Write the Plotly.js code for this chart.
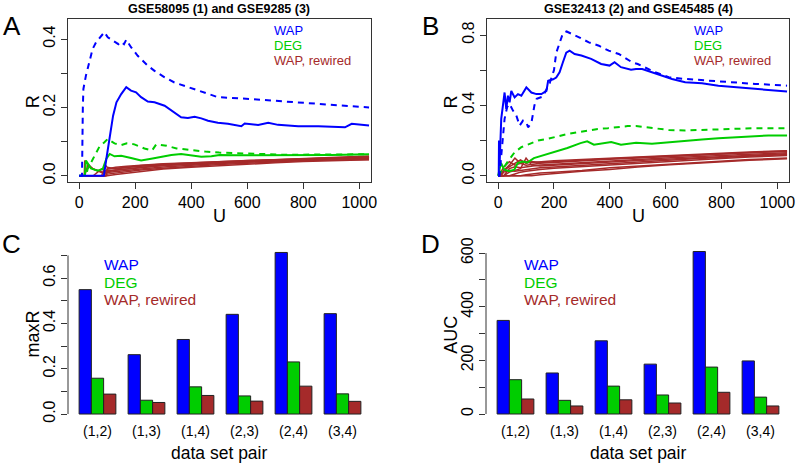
<!DOCTYPE html>
<html>
<head>
<meta charset="utf-8">
<script src="https://cdn.plot.ly/plotly-3.0.1.min.js"></script>
<style>
  html, body { margin: 0; padding: 0; background: #fff; }
  #chart { width: 800px; height: 465px; }
</style>
</head>
<body>
<div id="chart"></div>
<script>
// ---- panel A : GSE58095 (1) and GSE9285 (3) ----
var uA_wapDash = [0, 10, 13, 15, 24, 36, 48, 60, 78, 90, 102, 115, 126, 140, 150, 160, 168, 185, 209, 245, 269, 305, 340, 376, 412, 448, 495, 567, 639, 710, 782, 854, 925, 1000, 1035];
var rA_wapDash = [0, 0, 0.2, 0.254, 0.293, 0.334, 0.371, 0.39, 0.41, 0.42, 0.405, 0.398, 0.39, 0.385, 0.392, 0.385, 0.398, 0.376, 0.351, 0.322, 0.307, 0.288, 0.273, 0.263, 0.254, 0.244, 0.23, 0.227, 0.223, 0.22, 0.215, 0.21, 0.207, 0.202, 0.2];
var uA_wap = [0, 88, 97, 109, 121, 133, 150, 168, 185, 203, 221, 245, 269, 305, 329, 364, 388, 412, 436, 460, 495, 531, 579, 591, 639, 675, 710, 782, 854, 949, 973, 1035];
var rA_wap = [0, 0, 0.05, 0.117, 0.176, 0.215, 0.239, 0.259, 0.249, 0.244, 0.23, 0.217, 0.215, 0.205, 0.191, 0.171, 0.169, 0.173, 0.168, 0.161, 0.155, 0.152, 0.145, 0.153, 0.149, 0.155, 0.149, 0.145, 0.145, 0.142, 0.152, 0.147];
var uA_degDash = [0, 25, 30, 40, 54, 72, 90, 102, 126, 150, 170, 197, 233, 260, 275, 312, 348, 400, 450, 500, 560, 640, 720, 800, 900, 1035];
var rA_degDash = [0, 0, 0.02, 0.035, 0.056, 0.085, 0.098, 0.108, 0.095, 0.09, 0.095, 0.092, 0.08, 0.074, 0.092, 0.088, 0.08, 0.075, 0.071, 0.068, 0.066, 0.063, 0.062, 0.062, 0.062, 0.063];
var uA_deg = [0, 20, 24, 42, 66, 84, 97, 109, 126, 150, 185, 221, 257, 293, 329, 364, 400, 436, 472, 501, 560, 640, 720, 800, 900, 1035];
var rA_deg = [0, 0, 0.045, 0.022, 0.015, 0.02, 0.05, 0.064, 0.057, 0.059, 0.052, 0.045, 0.05, 0.056, 0.061, 0.064, 0.059, 0.056, 0.057, 0.061, 0.06, 0.06, 0.059, 0.06, 0.061, 0.063];
var uA_rew = [0, 18, 20, 30, 50, 80, 95, 100, 130, 170, 220, 300, 400, 500, 600, 700, 800, 900, 1035];
var rA_rew = [
  [0, 0, 0.045, 0.035, 0.02, 0.01, 0.008, 0.02, 0.022, 0.025, 0.028, 0.032, 0.036, 0.04, 0.043, 0.046, 0.049, 0.052, 0.055],
  [0, 0, 0, 0, 0, 0, 0.03, 0.025, 0.02, 0.024, 0.03, 0.034, 0.038, 0.042, 0.045, 0.047, 0.05, 0.053, 0.056],
  [0, 0, 0, 0.03, 0.02, 0.012, 0.01, 0.015, 0.018, 0.02, 0.024, 0.03, 0.035, 0.04, 0.042, 0.045, 0.048, 0.05, 0.052],
  [0, 0, 0, 0, 0, 0, 0, 0.01, 0.012, 0.015, 0.02, 0.026, 0.032, 0.036, 0.04, 0.043, 0.046, 0.049, 0.05],
  [0, 0, 0, 0, 0, 0.02, 0.015, 0.012, 0.016, 0.02, 0.025, 0.03, 0.034, 0.038, 0.041, 0.044, 0.047, 0.05, 0.054],
  [0, 0, 0, 0, 0, 0, 0, 0.005, 0.008, 0.012, 0.017, 0.022, 0.028, 0.033, 0.037, 0.041, 0.044, 0.046, 0.048],
  [0, 0, 0, 0, 0, 0, 0, 0.02, 0.025, 0.028, 0.031, 0.035, 0.038, 0.041, 0.044, 0.048, 0.051, 0.054, 0.058],
  [0, 0, 0, 0, 0, 0, 0, 0, 0.004, 0.008, 0.014, 0.02, 0.025, 0.03, 0.034, 0.038, 0.042, 0.045, 0.047]
];

// ---- panel B : GSE32413 (2) and GSE45485 (4) ----
var uB_wapDash = [0, 5, 10, 17, 23, 32, 41, 53, 65, 77, 89, 101, 107, 119, 130, 138, 160, 185, 200, 208, 220, 232, 245, 260, 290, 325, 361, 396, 432, 480, 500, 560, 611, 670, 754, 830, 920, 1035];
var rB_wapDash = [0, 0, 0.095, 0.247, 0.323, 0.389, 0.408, 0.37, 0.342, 0.285, 0.313, 0.304, 0.275, 0.3, 0.4, 0.437, 0.45, 0.528, 0.6, 0.698, 0.76, 0.81, 0.82, 0.81, 0.787, 0.758, 0.739, 0.711, 0.692, 0.645, 0.635, 0.59, 0.56, 0.55, 0.54, 0.53, 0.522, 0.512];
var uB_wap = [0, 2, 3, 5, 11, 17, 23, 29, 35, 41, 47, 59, 71, 83, 101, 119, 137, 155, 173, 179, 197, 208, 220, 232, 244, 256, 274, 298, 333, 369, 399, 417, 440, 476, 494, 516, 551, 587, 623, 670, 730, 789, 849, 908, 968, 1035];
var rB_wap = [0, 0, 0.2, 0.057, 0.323, 0.397, 0.473, 0.38, 0.455, 0.417, 0.482, 0.445, 0.464, 0.455, 0.502, 0.473, 0.464, 0.464, 0.482, 0.539, 0.548, 0.558, 0.588, 0.645, 0.7, 0.711, 0.692, 0.683, 0.664, 0.635, 0.626, 0.645, 0.617, 0.602, 0.607, 0.607, 0.588, 0.569, 0.55, 0.531, 0.526, 0.512, 0.503, 0.493, 0.484, 0.478];
var uB_degDash = [0, 20, 41, 59, 83, 113, 143, 179, 214, 250, 286, 321, 357, 393, 429, 464, 494, 551, 611, 670, 730, 825, 920, 1035];
var rB_degDash = [0, 0.05, 0.095, 0.133, 0.162, 0.181, 0.2, 0.21, 0.225, 0.238, 0.247, 0.257, 0.266, 0.27, 0.276, 0.282, 0.282, 0.27, 0.26, 0.257, 0.26, 0.266, 0.27, 0.27];
var uB_deg = [0, 10, 22, 40, 58, 70, 88, 105, 128, 188, 248, 295, 319, 343, 369, 405, 440, 476, 494, 551, 611, 670, 730, 789, 849, 908, 968, 1035];
var rB_deg = [0, 0.072, 0.034, 0.025, 0.034, 0.072, 0.081, 0.075, 0.1, 0.128, 0.157, 0.185, 0.195, 0.176, 0.181, 0.191, 0.176, 0.181, 0.187, 0.181, 0.19, 0.2, 0.206, 0.213, 0.219, 0.225, 0.229, 0.229];
var uB_rew = [0, 10, 20, 40, 60, 80, 100, 120, 150, 200, 300, 400, 500, 600, 700, 800, 900, 1035];
var rB_rew = [
  [0, 0.02, 0.05, 0.08, 0.06, 0.07, 0.08, 0.075, 0.08, 0.085, 0.092, 0.1, 0.106, 0.112, 0.12, 0.128, 0.135, 0.142],
  [0, 0, 0.03, 0.06, 0.1, 0.07, 0.06, 0.065, 0.07, 0.075, 0.085, 0.094, 0.1, 0.108, 0.115, 0.122, 0.13, 0.138],
  [0, 0, 0, 0.04, 0.05, 0.045, 0.05, 0.055, 0.06, 0.065, 0.075, 0.085, 0.092, 0.1, 0.108, 0.115, 0.122, 0.13],
  [0, 0, 0, 0.02, 0.03, 0.04, 0.1, 0.06, 0.055, 0.06, 0.07, 0.078, 0.086, 0.094, 0.102, 0.11, 0.118, 0.125],
  [0, 0, 0.02, 0.03, 0.025, 0.03, 0.035, 0.04, 0.045, 0.05, 0.06, 0.07, 0.08, 0.088, 0.096, 0.104, 0.112, 0.12],
  [0, 0, 0, 0, 0.01, 0.02, 0.025, 0.03, 0.035, 0.042, 0.052, 0.062, 0.072, 0.082, 0.09, 0.098, 0.106, 0.114],
  [0, 0, 0, 0, 0, 0, 0.005, 0.01, 0.015, 0.02, 0.03, 0.045, 0.055, 0.065, 0.075, 0.085, 0.092, 0.1],
  [0, 0, 0, 0, 0, 0, 0, 0, 0.005, 0.012, 0.025, 0.035, 0.05, 0.06, 0.07, 0.08, 0.088, 0.096],
  [0, 0.01, 0.03, 0.05, 0.07, 0.09, 0.07, 0.08, 0.075, 0.08, 0.088, 0.096, 0.104, 0.11, 0.118, 0.125, 0.132, 0.14]
];

// ---- panels C and D : bars per data set pair ----
var pairs = ['(1,2)', '(1,3)', '(1,4)', '(2,3)', '(2,4)', '(3,4)'];
var maxR_wap = [0.549, 0.262, 0.329, 0.440, 0.713, 0.443];
var maxR_deg = [0.158, 0.061, 0.120, 0.080, 0.230, 0.089];
var maxR_rew = [0.088, 0.051, 0.082, 0.057, 0.123, 0.056];
var auc_wap = [349, 153, 273, 186, 606, 198];
var auc_deg = [128, 51, 104, 71, 175, 63];
var auc_rew = [56, 30, 53, 41, 81, 30];

var seriesNames = ['WAP', 'DEG', 'WAP, rewired'];

var BLUE = '#0000ff', GREEN = '#00cd00', BROWN = '#a52a2a';
var FONT = 'Liberation Sans, Arial, sans-serif';
var W = 800, H = 465;

function line(x, y, color, dash, xa, ya, w) {
  return {
    x: x, y: y, type: 'scatter', mode: 'lines', xaxis: xa, yaxis: ya,
    line: {color: color, width: w || 2, dash: dash || 'solid'},
    showlegend: false, hoverinfo: 'skip'
  };
}
function bars(y, color, xa, ya) {
  return {
    x: pairs, y: y, type: 'bar', xaxis: xa, yaxis: ya,
    marker: {color: color, line: {color: '#222', width: 1}},
    showlegend: false, hoverinfo: 'skip'
  };
}

var data = [];
rA_rew.forEach(function (r) { data.push(line(uA_rew, r, BROWN, null, 'x', 'y', 1.5)); });
data.push(line(uA_deg, rA_deg, GREEN, null, 'x', 'y'));
data.push(line(uA_degDash, rA_degDash, GREEN, '6px,5px', 'x', 'y'));
data.push(line(uA_wap, rA_wap, BLUE, null, 'x', 'y'));
data.push(line(uA_wapDash, rA_wapDash, BLUE, '6px,5px', 'x', 'y'));

rB_rew.forEach(function (r) { data.push(line(uB_rew, r, BROWN, null, 'x2', 'y2', 1.5)); });
data.push(line(uB_deg, rB_deg, GREEN, null, 'x2', 'y2'));
data.push(line(uB_degDash, rB_degDash, GREEN, '6px,5px', 'x2', 'y2'));
data.push(line(uB_wap, rB_wap, BLUE, null, 'x2', 'y2'));
data.push(line(uB_wapDash, rB_wapDash, BLUE, '6px,5px', 'x2', 'y2'));

data.push(bars(maxR_wap, BLUE, 'x3', 'y3'));
data.push(bars(maxR_deg, GREEN, 'x3', 'y3'));
data.push(bars(maxR_rew, BROWN, 'x3', 'y3'));
data.push(bars(auc_wap, BLUE, 'x4', 'y4'));
data.push(bars(auc_deg, GREEN, 'x4', 'y4'));
data.push(bars(auc_rew, BROWN, 'x4', 'y4'));

// pixel helpers
function dx(a, b) { return [a / W, b / W]; }
function dy(top, bottom) { return [1 - bottom / H, 1 - top / H]; }

var tickFont = {family: FONT, size: 16, color: '#000'};
function lineX(domain, anchor) {
  return {
    domain: domain, anchor: anchor, range: [-40, 1042],
    tickvals: [0, 200, 400, 600, 800, 1000],
    ticks: 'outside', ticklen: 6, tickcolor: '#333',
    showline: true, mirror: true, linecolor: '#333', linewidth: 1,
    showgrid: false, zeroline: false, tickfont: tickFont
  };
}
function lineY(domain, anchor, range, vals, text) {
  return {
    domain: domain, anchor: anchor, range: range,
    tickvals: vals, ticktext: text, tickangle: -90,
    ticks: 'outside', ticklen: 6, tickcolor: '#333',
    showline: true, mirror: true, linecolor: '#333', linewidth: 1,
    showgrid: false, zeroline: false, tickfont: tickFont
  };
}
function barX(domain, anchor) {
  return {
    domain: domain, anchor: anchor, type: 'category', range: [-0.602, 5.602],
    ticks: '', showline: false, showgrid: false, zeroline: false,
    tickfont: {family: FONT, size: 14, color: '#000'}
  };
}
function barY(domain, anchor, range, vals, text) {
  return {
    domain: domain, anchor: anchor, range: range,
    tickvals: vals, ticktext: text, tickangle: -90,
    ticks: 'outside', ticklen: 6, tickcolor: '#333',
    showline: false, showgrid: false, zeroline: false, tickfont: tickFont
  };
}

function ann(text, px, py, size, color, opts) {
  var a = {
    text: text, xref: 'paper', yref: 'paper', x: px / W, y: 1 - py / H,
    xanchor: 'center', yanchor: 'middle', showarrow: false, borderpad: 0,
    font: {family: FONT, size: size, color: color || '#000'}
  };
  for (var k in (opts || {})) a[k] = opts[k];
  return a;
}

var colors = [BLUE, GREEN, BROWN];
var annotations = [
  ann('<b>GSE58095 (1) and GSE9285 (3)</b>', 219.5, 9, 12.5),
  ann('<b>GSE32413 (2) and GSE45485 (4)</b>', 638, 9, 12.5),
  ann('A', 12, 26, 26), ann('B', 431, 26, 26),
  ann('C', 11, 244, 26), ann('D', 430, 244, 26),
  ann('R', 32.5, 101.7, 18, null, {textangle: -90}),
  ann('R', 450.8, 101.7, 18, null, {textangle: -90}),
  ann('U', 219, 216, 18), ann('U', 638, 216, 18),
  ann('maxR', 32.5, 334, 18, null, {textangle: -90}),
  ann('AUC', 450.8, 335, 18, null, {textangle: -90}),
  ann('data set pair', 218.5, 453, 17.5),
  ann('data set pair', 638.3, 453, 17.5)
];
var legendRowsTop = [31, 45, 60];
var legendRowsBot = [264.5, 282.5, 299];
seriesNames.forEach(function (s, i) {
  annotations.push(ann(s, 273, legendRowsTop[i], 13, colors[i], {xanchor: 'left'}));
  annotations.push(ann(s, 692.7, legendRowsTop[i], 13, colors[i], {xanchor: 'left'}));
  annotations.push(ann(s, 102.7, legendRowsBot[i], 15.5, colors[i], {xanchor: 'left'}));
  annotations.push(ann(s, 522.7, legendRowsBot[i], 15.5, colors[i], {xanchor: 'left'}));
});

var layout = {
  width: W, height: H,
  margin: {l: 0, r: 0, t: 0, b: 0},
  paper_bgcolor: '#fff', plot_bgcolor: '#fff',
  font: {family: FONT, color: '#000'},
  showlegend: false,
  barmode: 'group', bargap: 0.25, bargroupgap: 0,
  xaxis: lineX(dx(68, 371), 'y'),
  yaxis: lineY(dy(19, 182), 'x', [-0.018, 0.4585], [0, 0.1, 0.2, 0.3, 0.4], ['0.0', '', '0.2', '', '0.4']),
  xaxis2: lineX(dx(487, 789), 'y2'),
  yaxis2: lineY(dy(19, 182), 'x2', [-0.036, 0.891], [0, 0.2, 0.4, 0.6, 0.8], ['0.0', '', '0.4', '', '0.8']),
  xaxis3: barX(dx(68, 372), 'y3'),
  yaxis3: barY(dy(246, 420.5), 'x3', [-0.0285, 0.7415], [0, 0.1, 0.2, 0.3, 0.4, 0.5, 0.6, 0.7], ['0.0', '', '0.2', '', '0.4', '', '0.6', '']),
  xaxis4: barX(dx(486, 790), 'y4'),
  yaxis4: barY(dy(245, 420.5), 'x4', [-24.2, 630.2], [0, 100, 200, 300, 400, 500, 600], ['0', '', '200', '', '400', '', '600']),
  shapes: [
    {type: 'line', xref: 'x3 domain', yref: 'y3', x0: 0, x1: 0, y0: 0, y1: 0.7, line: {color: '#333', width: 1}},
    {type: 'line', xref: 'x4 domain', yref: 'y4', x0: 0, x1: 0, y0: 0, y1: 600, line: {color: '#333', width: 1}}
  ],
  annotations: annotations
};

Plotly.newPlot('chart', data, layout, {displayModeBar: false, staticPlot: true});
</script>
</body>
</html>
